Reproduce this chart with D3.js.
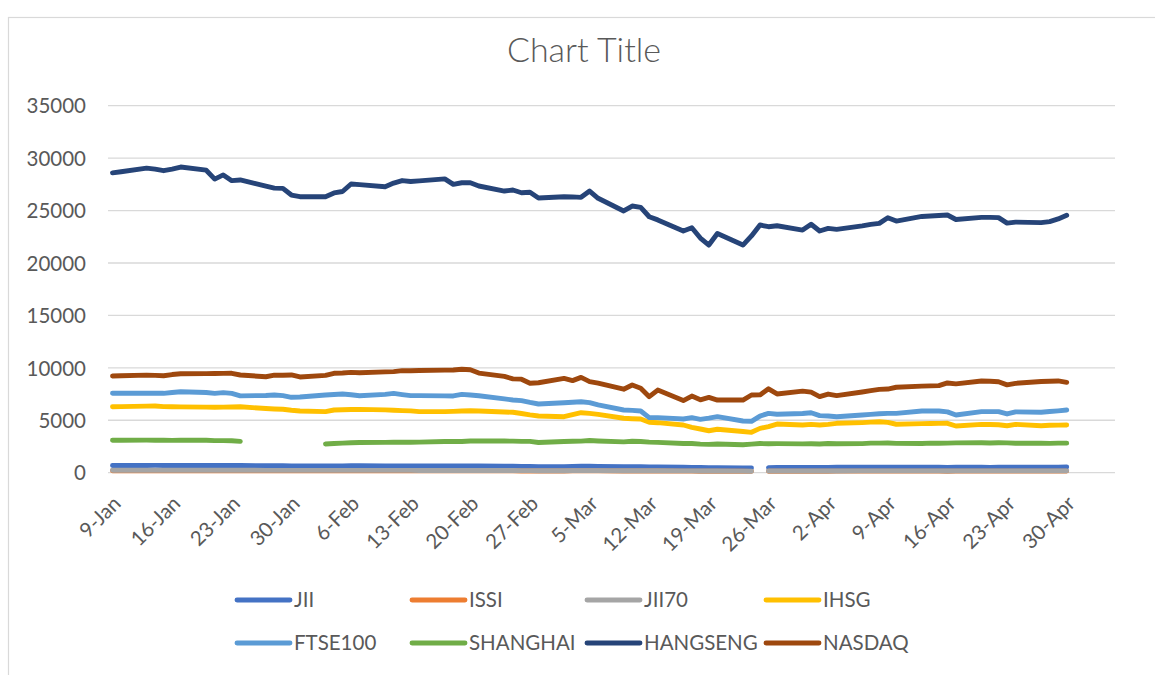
<!DOCTYPE html>
<html>
<head>
<meta charset="utf-8">
<script src="https://cdn.jsdelivr.net/npm/d3@7"></script>
<style>
  html, body { margin: 0; padding: 0; background: #ffffff; }
  svg { display: block; }
  text { font-family: Lato, "Open Sans", "Liberation Sans", sans-serif; fill: #595959; }
</style>
</head>
<body>
<svg id="chart" width="1155" height="675"></svg>
<script>
// ---------------- DATA ----------------
const dates = [
  "2020-01-09","2020-01-10",
  "2020-01-13","2020-01-14","2020-01-15","2020-01-16","2020-01-17",
  "2020-01-20","2020-01-21","2020-01-22","2020-01-23","2020-01-24",
  "2020-01-27","2020-01-28","2020-01-29","2020-01-30","2020-01-31",
  "2020-02-03","2020-02-04","2020-02-05","2020-02-06","2020-02-07",
  "2020-02-10","2020-02-11","2020-02-12","2020-02-13","2020-02-14",
  "2020-02-17","2020-02-18","2020-02-19","2020-02-20","2020-02-21",
  "2020-02-24","2020-02-25","2020-02-26","2020-02-27","2020-02-28",
  "2020-03-02","2020-03-03","2020-03-04","2020-03-05","2020-03-06",
  "2020-03-09","2020-03-10","2020-03-11","2020-03-12","2020-03-13",
  "2020-03-16","2020-03-17","2020-03-18","2020-03-19","2020-03-20",
  "2020-03-23","2020-03-24","2020-03-25","2020-03-26","2020-03-27",
  "2020-03-30","2020-03-31","2020-04-01","2020-04-02","2020-04-03",
  "2020-04-06","2020-04-07","2020-04-08","2020-04-09","2020-04-10",
  "2020-04-13","2020-04-14","2020-04-15","2020-04-16","2020-04-17",
  "2020-04-20","2020-04-21","2020-04-22","2020-04-23","2020-04-24",
  "2020-04-27","2020-04-28","2020-04-29","2020-04-30"
];

const JII = [
  690,690, 690,695,690,690,690, 685,685,685,685,680, 670,670,670,655,655,
  650,650,655,660,660, 655,650,650,650,645, 645,640,645,640,635, 615,610,590,590,575,
  580,600,610,610,600, 570,575,570,540,540, 520,505,490,470,480, 455,445,null,480,505,
  495,505,500,505,515, 530,525,515,520,520, 520,525,520,505,520, 520,510,515,515,520,
  520,525,530,540
];
const ISSI = [
  188,188, 189,189,189,188,188, 188,187,187,187,187, 185,185,184,181,181,
  180,180,181,182,182, 181,181,181,181,180, 180,179,180,179,178, 174,173,169,169,166,
  166,170,172,172,170, 163,164,163,156,156, 151,148,144,138,141, 132,128,null,138,144,
  141,144,142,143,146, 151,150,147,148,148, 148,149,148,145,149, 149,147,148,148,149,
  149,150,151,154
];
const JII70 = [
  232,232, 233,234,233,232,232, 231,230,230,230,229, 226,226,225,220,220,
  218,218,220,221,221, 219,218,218,218,216, 216,215,216,214,212, 206,204,198,198,193,
  193,199,202,202,199, 190,191,189,180,180, 174,170,164,156,160, 150,145,null,157,165,
  162,166,164,165,169, 175,174,170,171,171, 171,172,171,167,172, 172,170,171,171,172,
  172,173,175,178
];
const IHSG = [
  6290,6300, 6350,6360,6300,6290,6280, 6250,6240,6250,6270,6290, 6120,6080,6050,5960,5890,
  5820,5980,6000,6030,6040, 5990,5950,5920,5900,5820, 5820,5850,5890,5910,5880,
  5790,5760,5650,5520,5410, 5340,5530,5720,5660,5560, 5190,5150,5120,4810,4770,
  4550,4330,4170,4000,4140, 3930,3850,4230,4400,4640, 4550,4610,4550,4610,4710,
  4780,4820,4860,4800,4620, 4680,4690,4700,4710,4450, 4610,4600,4570,4480,4610,
  4480,4520,4540,4550
];
const FTSE100 = [
  7570,7570, 7580,7580,7570,7650,7720, 7650,7570,7640,7560,7330, 7360,7410,7350,7190,7220,
  7410,7460,7500,7430,7340, 7470,7560,7450,7350,7350, 7330,7320,7470,7410,7340,
  7040,6930,6870,6700,6550, 6670,6720,6770,6680,6460, 5980,5940,5880,5250,5250,
  5120,5250,5090,5200,5340, 4930,4900,5400,5660,5570, 5650,5720,5440,5410,5340,
  5500,5560,5620,5660,5660, 5880,5880,5880,5800,5500, 5820,5820,5820,5600,5800,
  5770,5830,5900,5980
];
const SHANGHAI = [
  3100,3100, 3110,3100,3090,3080,3090, 3090,3060,3060,3050,2990, null,null,null,null,null,
  2740,2780,2820,2860,2880, 2890,2900,2910,2900,2920, 2980,2990,2980,3020,3030,
  3020,3010,2990,2990,2880, 2970,3000,3010,3070,3030, 2940,3000,2970,2920,2890,
  2790,2780,2730,2700,2740, 2670,2720,2780,2760,2770, 2750,2760,2740,2780,2760,
  2770,2820,2820,2830,2800, 2780,2820,2810,2820,2840, 2850,2830,2850,2840,2810,
  2810,2800,2820,2820
];
const HANGSENG = [
  28600,28700, 29050,28950,28800,28950,29150, 28850,28000,28400,27850,27920,
  27330,27140,27120,26480,26320, 26320,26680,26820,27530,27470,
  27270,27620,27860,27770,27830, 28020,27500,27650,27650,27340,
  26860,26960,26700,26740,26200, 26320,26300,26260,26860,26170,
  24960,25430,25310,24410,24110, 23050,23360,22380,21710,22810,
  21710,22580,23620,23460,23550, 23140,23690,23050,23300,23210,
  23540,23680,23780,24320,24000, 24440,24480,24530,24580,24150,
  24350,24350,24330,23800,23900, 23850,23950,24200,24550
];
const NASDAQ = [
  9220,9240, 9310,9280,9250,9360,9440, 9450,9460,9470,9480,9320, 9150,9300,9300,9320,9130,
  9280,9480,9510,9570,9530, 9620,9640,9730,9720,9750, 9780,9790,9860,9820,9500,
  9180,8950,8920,8530,8580, 8990,8780,9090,8690,8550, 7960,8360,8050,7250,7880,
  6880,7310,6950,7180,6930, 6930,7410,7420,8000,7510, 7780,7680,7260,7500,7350,
  7700,7830,7950,7980,8150, 8260,8280,8300,8560,8470, 8750,8720,8680,8380,8520,
  8700,8720,8750,8620
];

const seriesNames = ["JII","ISSI","JII70","IHSG","FTSE100","SHANGHAI","HANGSENG","NASDAQ"];
const seriesValues = [JII, ISSI, JII70, IHSG, FTSE100, SHANGHAI, HANGSENG, NASDAQ];
const seriesColors = ["#4472C4","#ED7D31","#A5A5A5","#FFC000","#5B9BD5","#70AD47","#264478","#9E480E"];

const yTicks = [0,5000,10000,15000,20000,25000,30000,35000];
const xTickDates = ["2020-01-09","2020-01-16","2020-01-23","2020-01-30","2020-02-06","2020-02-13",
  "2020-02-20","2020-02-27","2020-03-05","2020-03-12","2020-03-19","2020-03-26","2020-04-02",
  "2020-04-09","2020-04-16","2020-04-23","2020-04-30"];
const chartTitle = "Chart Title";

// ---------------- LAYOUT ----------------
const svg = d3.select("#chart");
const plotLeft = 108, plotRight = 1115, plotTop = 105.7, plotBottom = 472.7;

const parse = d3.utcParse("%Y-%m-%d");
const fmt = d3.utcFormat("%-d-%b");

const x = d3.scaleUtc()
  .domain([parse(dates[0]), parse(dates[dates.length - 1])])
  .range([112.5, 1066.7]);
const y = d3.scaleLinear().domain([0, 35000]).range([plotBottom, plotTop]);

// chart area border (only left/top visible in frame)
svg.append("rect")
  .attr("x", 8.5).attr("y", 17.5)
  .attr("width", 1300).attr("height", 800)
  .attr("fill", "#ffffff")
  .attr("stroke", "#D9D9D9").attr("stroke-width", 1.2);

// title
svg.append("text")
  .attr("x", 584).attr("y", 62)
  .attr("text-anchor", "middle")
  .style("font-size", "34px")
  .style("font-weight", "300")
  .text(chartTitle);

// gridlines
svg.append("g")
  .selectAll("line")
  .data(yTicks)
  .join("line")
  .attr("x1", plotLeft).attr("x2", plotRight)
  .attr("y1", d => y(d)).attr("y2", d => y(d))
  .attr("stroke", "#D9D9D9").attr("stroke-width", 1.3);

// y axis labels
const yAxis = d3.axisLeft(y).tickValues(yTicks).tickSize(0).tickPadding(0).tickFormat(d3.format("d"));
const gy = svg.append("g").attr("transform", `translate(86,0)`).call(yAxis);
gy.select(".domain").remove();
gy.selectAll("text")
  .style("font-size", "20.5px")
  .style("font-family", "Lato, 'Open Sans', sans-serif")
  .attr("fill", "#595959")
  .attr("dy", "0.35em");

// x axis labels
const xAxis = d3.axisBottom(x).tickValues(xTickDates.map(parse)).tickSize(0).tickFormat(fmt);
const gx = svg.append("g").attr("transform", `translate(0,${plotBottom})`).call(xAxis);
gx.select(".domain").remove();
gx.selectAll(".tick text")
  .style("font-size", "20.5px")
  .style("font-family", "Lato, 'Open Sans', sans-serif")
  .attr("fill", "#595959")
  .attr("text-anchor", "end")
  .attr("y", 0).attr("dy", "0.35em")
  .attr("transform", "translate(4,27) rotate(-45)");

// lines
const line = d3.line()
  .defined(d => d.v !== null)
  .x(d => x(d.date))
  .y(d => y(d.v));

const parsedDates = dates.map(parse);
const gLines = svg.append("g");
seriesNames.forEach((name, i) => {
  const pts = parsedDates.map((dt, j) => ({ date: dt, v: seriesValues[i][j] }));
  gLines.append("path")
    .datum(pts)
    .attr("fill", "none")
    .attr("stroke", seriesColors[i])
    .attr("stroke-width", 4.9)
    .attr("stroke-linejoin", "round")
    .attr("stroke-linecap", "round")
    .attr("d", line);
});

// legend
const legendCols = [237, 412, 587, 766];
const legendRows = [600, 643];
const gLeg = svg.append("g");
seriesNames.forEach((name, i) => {
  const cx = legendCols[i % 4];
  const cy = legendRows[Math.floor(i / 4)];
  gLeg.append("line")
    .attr("x1", cx).attr("x2", cx + 53)
    .attr("y1", cy).attr("y2", cy)
    .attr("stroke", seriesColors[i])
    .attr("stroke-width", 4.9)
    .attr("stroke-linecap", "round");
  gLeg.append("text")
    .attr("x", cx + 57).attr("y", cy)
    .attr("dy", "0.36em")
    .style("font-size", "20.5px")
    .text(name);
});
</script>
</body>
</html>
